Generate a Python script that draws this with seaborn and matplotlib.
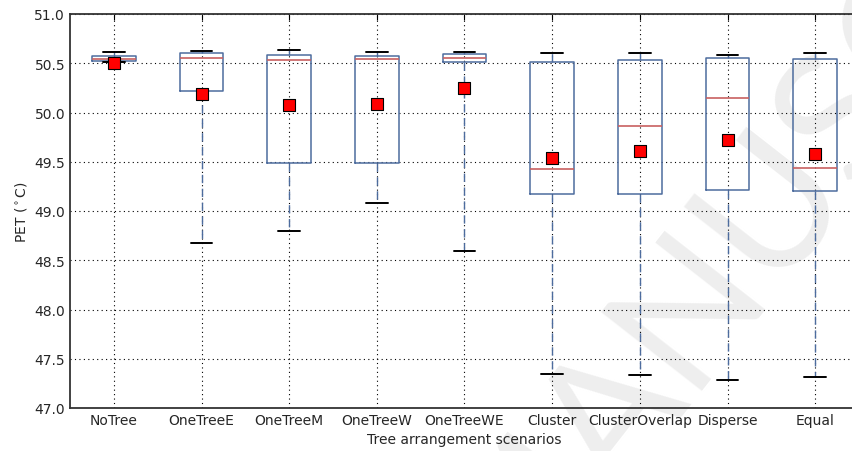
import numpy as np
import pandas as pd
import seaborn as sns
import matplotlib
matplotlib.use("Agg")
import matplotlib.pyplot as plt

# escenarios y estadisticos
escenarios = ["NoTree", "OneTreeE", "OneTreeM", "OneTreeW", "OneTreeWE",
              "Cluster", "ClusterOverlap", "Disperse", "Equal"]
bigote_inf = [50.51, 48.68, 48.80, 49.08, 48.59, 47.35, 47.33, 47.28, 47.31]
cuartil_1 = [50.525, 50.22, 49.49, 49.49, 50.51, 49.17, 49.17, 49.21, 49.20]
mediana = [50.546, 50.556, 50.53, 50.54, 50.553, 49.43, 49.86, 50.15, 49.44]
cuartil_3 = [50.577, 50.60, 50.58, 50.574, 50.59, 50.51, 50.53, 50.55, 50.54]
bigote_sup = [50.61, 50.62, 50.63, 50.61, 50.614, 50.60, 50.60, 50.587, 50.60]
media = [50.505, 50.19, 50.08, 50.086, 50.245, 49.54, 49.61, 49.72, 49.58]

# cinco valores por escenario -> percentiles exactos (min, q1, mediana, q3, max)
filas = []
for i, e in enumerate(escenarios):
    for v in [bigote_inf[i], cuartil_1[i], mediana[i], cuartil_3[i], bigote_sup[i]]:
        filas.append({"escenario": e, "PET": v})
datos = pd.DataFrame(filas)
medias = pd.DataFrame({"escenario": escenarios, "PET": media})

sns.set_style("white")
plt.rcParams["font.family"] = ["DejaVu Sans"]

fig = plt.figure(figsize=(8.52, 4.52), dpi=100)
ax = fig.add_axes([70 / 852, 1 - 409 / 452, 789 / 852, 394 / 452])

# marca de agua (detras de los ejes)
fig.text(0.60, -0.36, "MANUSCRIPT", fontsize=128, color="#eeeeee",
         family="Lato", weight="normal",
         rotation=52, rotation_mode="anchor", ha="left", va="baseline",
         zorder=-1)
ax.set_facecolor("none")

azul = "#4d6c9e"
sns.boxplot(data=datos, x="escenario", y="PET", order=escenarios, ax=ax,
            whis=(0, 100), fill=False, width=0.5, linewidth=1.1,
            linecolor=azul,
            boxprops=dict(color=azul, linewidth=1.1),
            medianprops=dict(color="#c86060", linewidth=1.2),
            whiskerprops=dict(color=azul, linestyle=(0, (6, 4)), linewidth=1.0),
            capprops=dict(color="black", linewidth=1.4),
            showfliers=False)

sns.stripplot(data=medias, x="escenario", y="PET", order=escenarios, ax=ax,
              jitter=False, marker="s", size=8, color="red",
              edgecolor="black", linewidth=0.8, zorder=5)

ax.set_ylim(47.0, 51.0)
ax.set_xlim(-0.5, 8.5)
ax.set_yticks(np.arange(47.0, 51.01, 0.5))
ax.set_yticklabels([f"{v:.1f}" for v in np.arange(47.0, 51.01, 0.5)])
ax.grid(True, color="black", linestyle=(0, (1, 3)), linewidth=0.8)
ax.set_axisbelow(True)
ax.tick_params(direction="in", top=True, right=True, length=4,
               labelsize=10, color="black")
for s in ax.spines.values():
    s.set_color("#333333")
    s.set_linewidth(1.3)
ax.set_xlabel("Tree arrangement scenarios", fontsize=10)
ax.set_ylabel("PET ($^\\circ$C)", fontsize=10)

fig.savefig("out.png", dpi=100)
